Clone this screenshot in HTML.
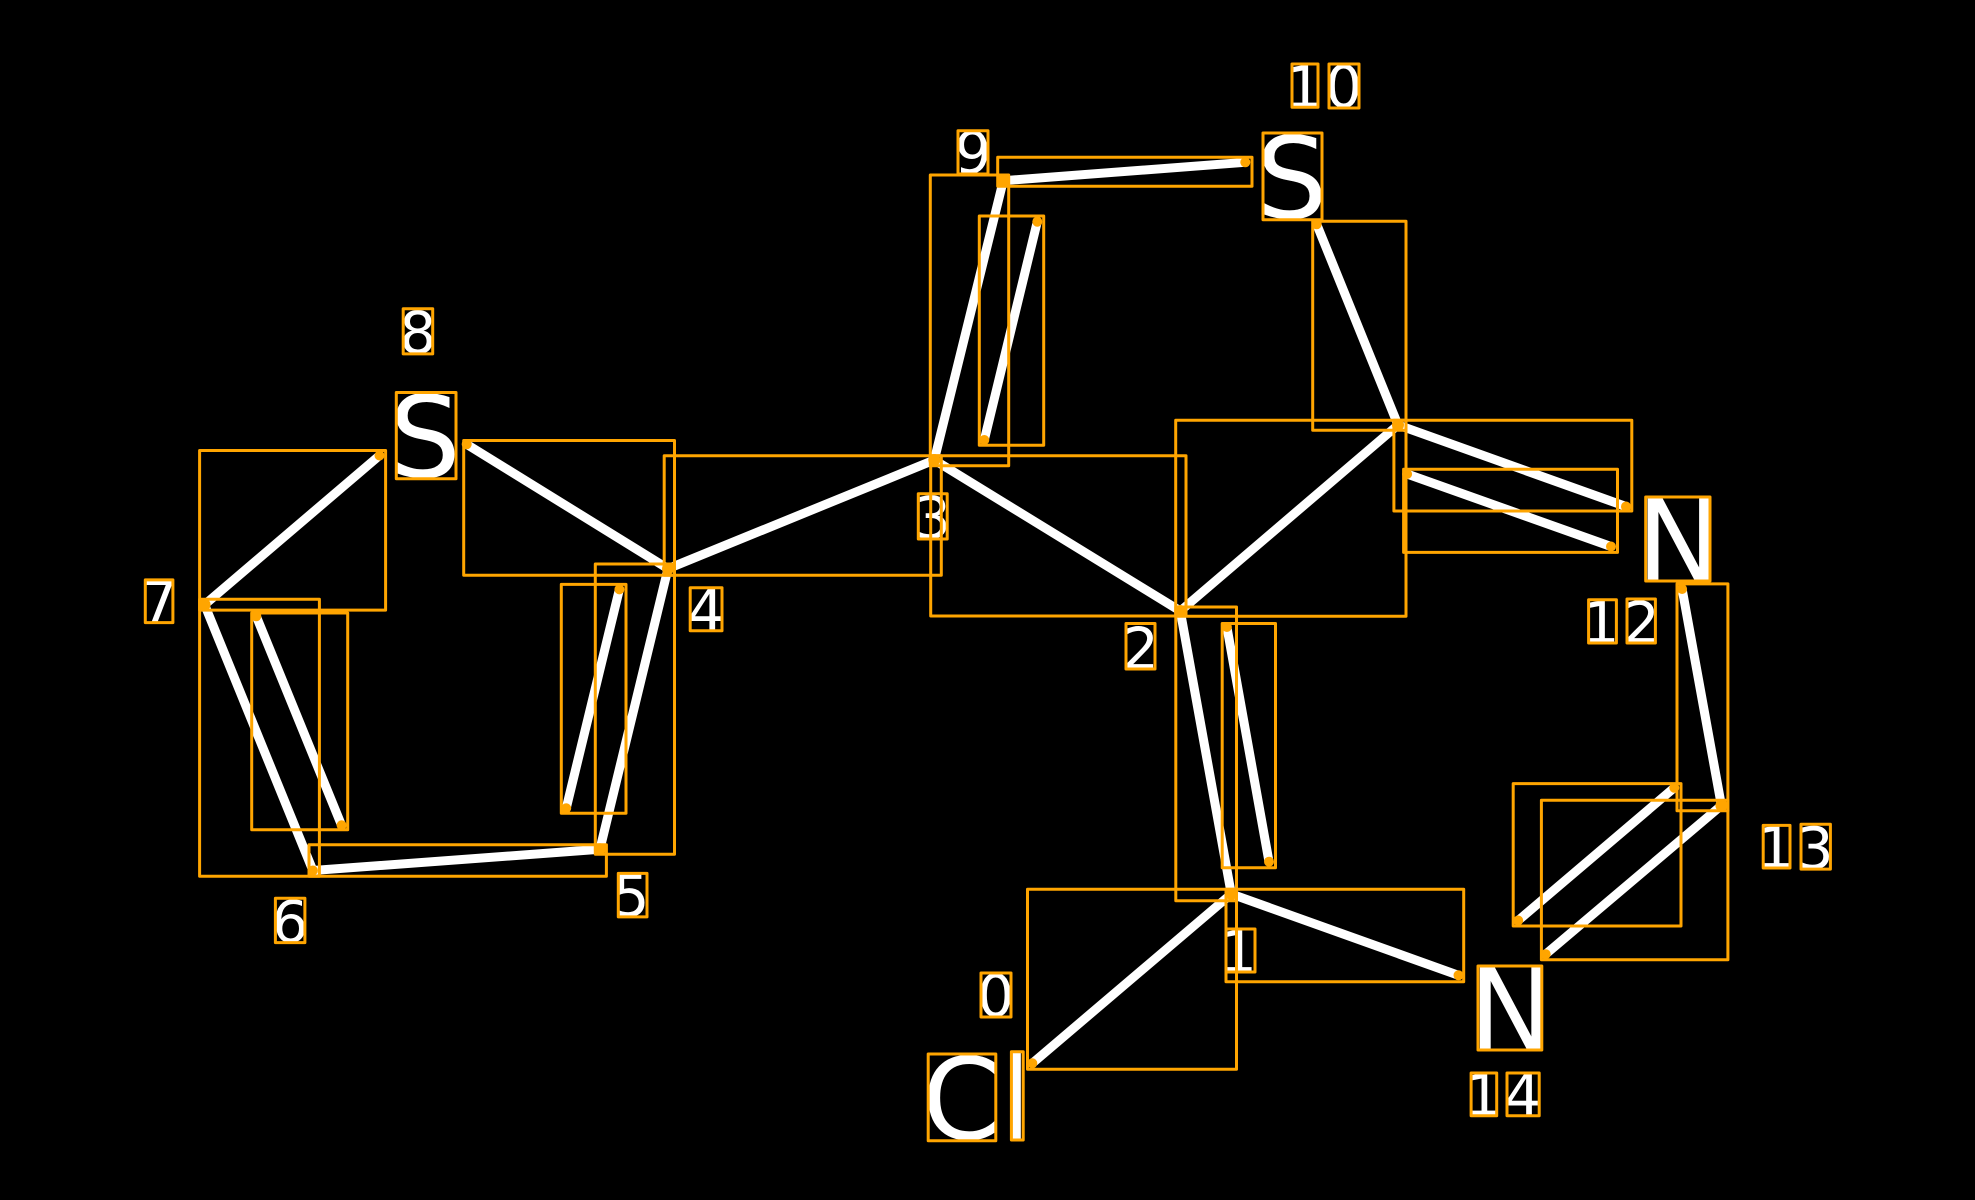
<!DOCTYPE html>
<html><head><meta charset="utf-8"><style>
html,body{margin:0;padding:0;background:#000;width:1975px;height:1200px;overflow:hidden}
svg{display:block}
text{font-family:"DejaVu Sans",sans-serif;fill:#fff}
.d{font-size:58px}.a{font-size:113px}
</style></head><body>
<svg width="1975" height="1200" viewBox="0 0 1975 1200" xmlns="http://www.w3.org/2000/svg">
<rect width="1975" height="1200" fill="#000"/>
<g stroke="#fff" stroke-width="9" stroke-linecap="round" fill="none">
<line x1="1032.3" y1="1063.3" x2="1231.3" y2="894"/>
<line x1="1231.3" y1="894" x2="1180.3" y2="611"/>
<line x1="1269" y1="861.7" x2="1226.9" y2="627"/>
<line x1="1180.3" y1="611" x2="934.3" y2="460"/>
<line x1="934.3" y1="460" x2="668" y2="568.7"/>
<line x1="668" y1="568.7" x2="599.9" y2="849.3"/>
<line x1="619.4" y1="589.4" x2="566.2" y2="808.3"/>
<line x1="599.9" y1="849.3" x2="312.9" y2="870.5"/>
<line x1="312.9" y1="870.5" x2="204.6" y2="604.7"/>
<line x1="341.6" y1="825.3" x2="256.3" y2="616.3"/>
<line x1="204.6" y1="604.7" x2="379.5" y2="455.5"/>
<line x1="466.7" y1="444.3" x2="668" y2="568.7"/>
<line x1="934.3" y1="460" x2="1003.3" y2="180.7"/>
<line x1="984.3" y1="440" x2="1037.3" y2="221.7"/>
<line x1="1003.3" y1="180.7" x2="1245.3" y2="162.3"/>
<line x1="1316.7" y1="224.3" x2="1398" y2="425"/>
<line x1="1398" y1="425" x2="1180.3" y2="611"/>
<line x1="1398" y1="425" x2="1626" y2="506.5"/>
<line x1="1407.1" y1="474" x2="1611" y2="546.5"/>
<line x1="1682.1" y1="589" x2="1721.4" y2="805.5"/>
<line x1="1721.4" y1="805.5" x2="1545.7" y2="954.2"/>
<line x1="1674.3" y1="787.7" x2="1518.2" y2="920.5"/>
<line x1="1231.3" y1="894" x2="1458.5" y2="975.3"/>
</g>
<g>
<text class="d" x="954.6" y="173.2">9</text>
<text class="d" x="1285.9" y="107.3">1</text>
<text class="d" x="1325.3" y="107.2">0</text>
<text class="d" x="399.4" y="353.1">8</text>
<text class="d" x="140.8" y="622.6">7</text>
<text class="d" x="687.5" y="630.8">4</text>
<text class="d" x="612.6" y="916.1">5</text>
<text class="d" x="271.5" y="941.8">6</text>
<text class="d" x="1220" y="972">1</text>
<text class="d" x="977.3" y="1016.2">0</text>
<text class="d" x="914" y="538.2">3</text>
<text class="d" x="1122" y="669">2</text>
<text class="d" x="1582.6" y="643">1</text>
<text class="d" x="1623" y="643">2</text>
<text class="d" x="1757.2" y="868">1</text>
<text class="d" x="1796.8" y="868.3">3</text>
<text class="d" x="1465" y="1115.7">1</text>
<text class="d" x="1504.3" y="1115.7">4</text>
<text class="a" x="1255.8" y="218">S</text>
<text class="a" x="389" y="477">S</text>
<text class="a" x="1636.5" y="581">N</text>
<text class="a" x="1468.8" y="1050">N</text>
<text class="a" x="922" y="1139">C</text>
<text class="a" x="1000" y="1139">l</text>
</g>
<g fill="none" stroke="#ffa500" stroke-width="3" stroke-linejoin="round">
<rect x="1027.5" y="889.3" width="209" height="180"/>
<rect x="1175.8" y="607" width="60.7" height="293.7"/>
<rect x="1222.2" y="623.5" width="53.3" height="244.2"/>
<rect x="930.7" y="455.7" width="255.3" height="160.3"/>
<rect x="664.2" y="455.7" width="277.1" height="119.6"/>
<rect x="595.3" y="564" width="79.2" height="290.3"/>
<rect x="561.3" y="584.4" width="64.7" height="228.9"/>
<rect x="309" y="844.8" width="297.4" height="31.5"/>
<rect x="199.6" y="599.3" width="119.8" height="277"/>
<rect x="251.7" y="613" width="96" height="216.8"/>
<rect x="199.6" y="450.5" width="186" height="159.6"/>
<rect x="463.7" y="440.5" width="210.8" height="134.8"/>
<rect x="930.3" y="175" width="78.4" height="290.7"/>
<rect x="979.3" y="216" width="64.4" height="229.3"/>
<rect x="997.7" y="157.3" width="254.3" height="29"/>
<rect x="1312.7" y="221.3" width="93.3" height="208.9"/>
<rect x="1175.7" y="420.3" width="230.3" height="196"/>
<rect x="1393.9" y="420.3" width="237.9" height="90.7"/>
<rect x="1403.6" y="469.2" width="213.9" height="83.2"/>
<rect x="1677" y="583.9" width="50.9" height="226.8"/>
<rect x="1541.4" y="800.3" width="186.5" height="159.4"/>
<rect x="1513.2" y="783.6" width="167.8" height="142.4"/>
<rect x="1226" y="889.3" width="237.7" height="92.4"/>
<rect x="958" y="130.7" width="30" height="43.3"/>
<rect x="1292" y="64" width="26" height="43.3"/>
<rect x="1329" y="64" width="30" height="44"/>
<rect x="403.2" y="308.7" width="29.5" height="45.2"/>
<rect x="145.3" y="579.9" width="27.6" height="42.7"/>
<rect x="690.2" y="587.7" width="31.8" height="43.1"/>
<rect x="618.3" y="873.4" width="28.7" height="43.5"/>
<rect x="275.4" y="898.3" width="29.5" height="44.3"/>
<rect x="1226" y="929" width="29" height="43"/>
<rect x="981" y="973" width="30" height="44"/>
<rect x="918.3" y="493.8" width="28.9" height="45.2"/>
<rect x="1126" y="623.5" width="29" height="45.5"/>
<rect x="1588.6" y="599.8" width="27.8" height="43.2"/>
<rect x="1627" y="599" width="28.4" height="44"/>
<rect x="1763.2" y="825.4" width="26.8" height="42.6"/>
<rect x="1801" y="824.3" width="29.4" height="44.8"/>
<rect x="1471.1" y="1073" width="25.6" height="42.7"/>
<rect x="1507" y="1073" width="32.2" height="42.7"/>
<rect x="1263" y="133" width="59" height="86.7"/>
<rect x="396.3" y="392.5" width="59.7" height="86.2"/>
<rect x="1645.7" y="497" width="64.3" height="84"/>
<rect x="1478" y="966" width="63.8" height="84"/>
<rect x="928.2" y="1054" width="67.6" height="86.7"/>
<rect x="1011.4" y="1051.7" width="11.8" height="88.3"/>
</g>
<g fill="#ffa500">
<circle cx="1032.3" cy="1063.3" r="5"/><circle cx="1231.3" cy="894" r="6"/>
<circle cx="1180.3" cy="611" r="6"/><circle cx="1269" cy="861.7" r="5"/>
<circle cx="1226.9" cy="627" r="5"/><circle cx="934.3" cy="460" r="6"/>
<circle cx="668" cy="568.7" r="6"/><circle cx="599.9" cy="849.3" r="6"/>
<circle cx="619.4" cy="589.4" r="5"/><circle cx="566.2" cy="808.3" r="5"/>
<circle cx="312.9" cy="870.5" r="5"/><circle cx="204.6" cy="604.7" r="6"/>
<circle cx="341.6" cy="825.3" r="5"/><circle cx="256.3" cy="616.3" r="5"/>
<circle cx="379.5" cy="455.5" r="5"/><circle cx="466.7" cy="444.3" r="5"/>
<circle cx="1003.3" cy="180.7" r="6"/><circle cx="984.3" cy="440" r="5"/>
<circle cx="1037.3" cy="221.7" r="5"/><circle cx="1245.3" cy="162.3" r="5"/>
<circle cx="1316.7" cy="224.3" r="5"/><circle cx="1398" cy="425" r="6"/>
<circle cx="1626" cy="506.5" r="5"/><circle cx="1407.1" cy="474" r="5"/>
<circle cx="1611" cy="546.5" r="5"/><circle cx="1682.1" cy="589" r="5"/>
<circle cx="1721.4" cy="805.5" r="6"/><circle cx="1545.7" cy="954.2" r="5"/>
<circle cx="1674.3" cy="787.7" r="5"/><circle cx="1518.2" cy="920.5" r="5"/>
<circle cx="1458.5" cy="975.3" r="5"/>
</g>
</svg>
</body></html>
